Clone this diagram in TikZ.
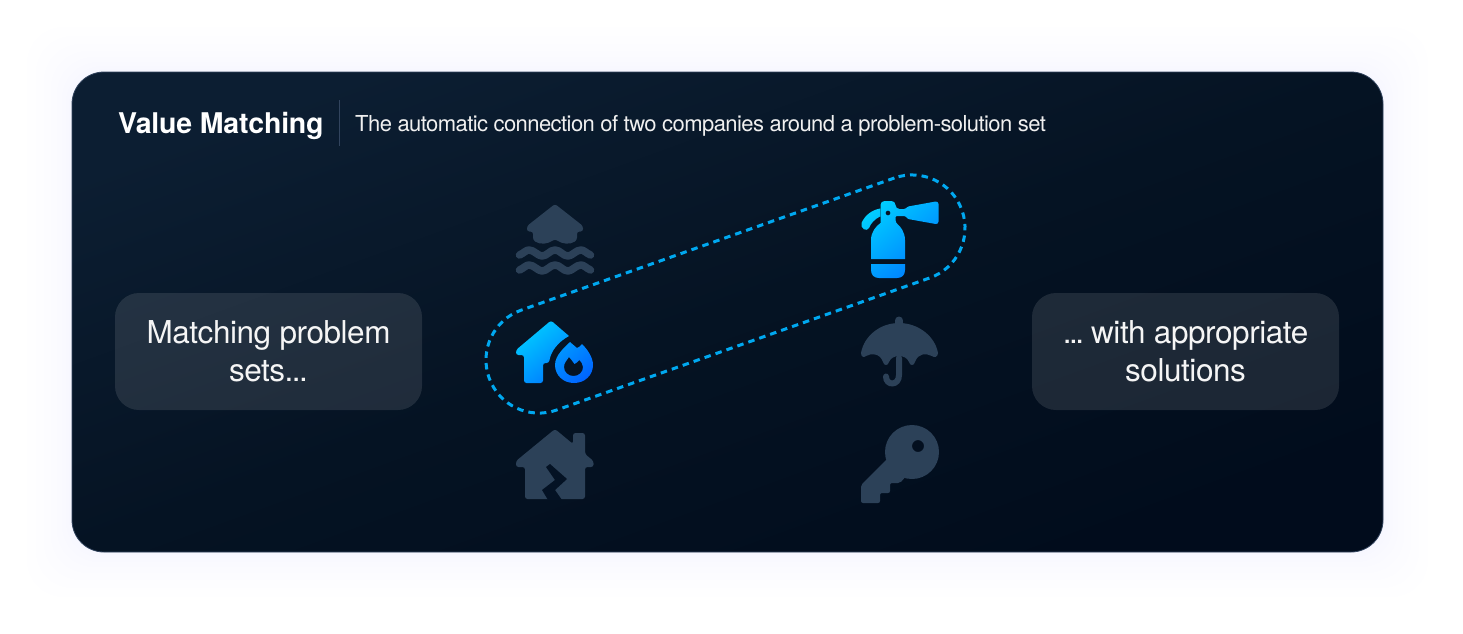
\documentclass[tikz,border=0pt]{standalone}
\usepackage{fontspec}
\setmainfont{TeX Gyre Heros}
\newfontfamily\subtitlefont[LetterSpace=-2.6]{TeX Gyre Heros}
\newfontfamily\talkfont[LetterSpace=-1.4]{TeX Gyre Heros}
\newfontfamily\titlefont[LetterSpace=-0.7]{TeX Gyre Heros}
\definecolor{cardtl}{RGB}{12, 30, 50}
\definecolor{cardmid}{RGB}{5, 19, 35}
\definecolor{cardbr}{RGB}{1, 12, 28}
\definecolor{cardedge}{RGB}{50, 68, 94}
\definecolor{glowblue}{RGB}{70, 130, 255}
\definecolor{iconslate}{RGB}{44, 65, 88}
\definecolor{icondark}{RGB}{4, 18, 36}
\definecolor{hotcyan}{RGB}{0, 205, 255}
\definecolor{hotblue}{RGB}{0, 125, 255}
\definecolor{flamelight}{RGB}{0, 150, 255}
\definecolor{flamedeep}{RGB}{0, 100, 255}
\definecolor{ringblue}{RGB}{0, 168, 240}
\usetikzlibrary{positioning}

\begin{document}
\begin{tikzpicture}[
  x=1pt, y=-1pt,
  cardbox/.style={rounded corners=32pt, draw=cardedge, line width=0.8pt,
              top color=cardtl, bottom color=cardbr, middle color=cardmid, shading angle=20},
  talkbox/.style={fill=white, fill opacity=0.105, text opacity=1, text=white!96!black,
              rounded corners=24pt, minimum width=307pt, minimum height=117pt,
              inner sep=0pt, align=center, font=\fontsize{31.5}{38}\selectfont\talkfont},
  slateicon/.style={fill=iconslate},
  hoticon/.style={top color=hotcyan, bottom color=hotblue, shading angle=40},
  flameicon/.style={top color=flamelight, bottom color=flamedeep, shading angle=40},
  wave/.style={draw=iconslate, line width=7.5pt, line cap=round, line join=round},
]
\useasboundingbox (0,0) rectangle (1463,633);

% Soft glow
\fill[white] (0,0) rectangle (1463,633);
\foreach \grow in {3,6,10,15,21,28,36,45}
  \fill[glowblue, opacity=0.005, rounded corners=36pt]
    (72-\grow,72-\grow) rectangle (1383+\grow,552+\grow);

% Card
\path[cardbox] (72,72) rectangle (1383,552);

% Heading
\node[anchor=base west, inner sep=0pt, text=white, font=\fontsize{28.5}{34}\selectfont\titlefont\bfseries]
  (title) at (118,133) {Value Matching};
\node[anchor=base west, inner sep=0pt, text=white!94!black, font=\fontsize{22}{26}\selectfont\subtitlefont]
  (subtitle) at (355,131) {The automatic connection of two companies around a problem-solution set};
\coordinate (ruletop) at (339,100);
\coordinate (rulebot) at (339,146);
\draw[cardedge, line width=0.8pt] (ruletop) -- (rulebot);

% Side boxes
\node[talkbox] (problems) at (268.5,351.5) {Matching problem\\sets.\kern-1.5pt.\kern-1.5pt.};
\node[talkbox] (solutions) at (1185.5,351.5) {.\kern-2.5pt.\kern-2.5pt.\kern-4pt{} with appropriate\\solutions};

% Dashed pair
\node[draw=ringblue, line width=3pt, dash pattern=on 6.5pt off 5.1pt, rounded corners=52.9pt,
      minimum width=501.7pt, minimum height=106pt, inner sep=0pt, rotate=19.5]
  (pairing) at (725.5,294) {};

% Flooded house
\path[slateicon, rounded corners=2.5pt] (555,204) -- (583,226) -- (583,231.5) -- (577,231.5) -- (577,240)
  .. controls (570,245) and (562,244) .. (555,239) .. controls (548,244) and (540,245) .. (533,240)
  -- (533,231.5) -- (527,231.5) -- (527,226) -- cycle;
\draw[wave] (519.5,255) .. controls (524,253) and (526,250) .. (529,250) .. controls (534,250) and (538,256) .. (542,256)
  .. controls (547,256) and (550,250) .. (555,250) .. controls (560,250) and (563,256) .. (568,256)
  .. controls (572,256) and (576,250) .. (581,250) .. controls (584,250) and (586,253) .. (590.5,255);
\draw[wave] (519.5,270) .. controls (524,268) and (526,265) .. (529,265) .. controls (534,265) and (538,271) .. (542,271)
  .. controls (547,271) and (550,265) .. (555,265) .. controls (560,265) and (563,271) .. (568,271)
  .. controls (572,271) and (576,265) .. (581,265) .. controls (584,265) and (586,268) .. (590.5,270);

% Burning house
\shade[hoticon] [rounded corners=2.5pt] (569,336) -- (551,320.5) -- (516,350) -- (516,355) -- (524,355)
  -- (524,383) -- (543,383) -- (543,363) -- (549,363) [sharp corners]
  .. controls (551,351) and (558,342) .. (569,336) -- cycle;
\shade[flameicon, even odd rule] (570,342) .. controls (565,347) and (555,355) .. (555,365)
  .. controls (555,375) and (563,383) .. (574,383) .. controls (585,383) and (593,375) .. (593,365)
  .. controls (593,357) and (587,349) .. (582,344) .. controls (581,346) and (579,347) .. (577,348)
  .. controls (575,346) and (572,344) .. (570,342) -- cycle
  (569,357) .. controls (567,360) and (564,363) .. (564,367) .. controls (564,372) and (568,376) .. (573.5,376)
  .. controls (579,376) and (583,372) .. (583,367) .. controls (583,364) and (581,362) .. (579.5,360)
  .. controls (578,362) and (576,363) .. (574.5,364) .. controls (573,362) and (571,359) .. (569,357) -- cycle;

% Cracked house
\path[slateicon, rounded corners=2.5pt] (555,429) -- (573,444) -- (573,433) -- (585,433) -- (585,454)
  -- (593.5,461) -- (593.5,467) -- (585,467) -- (585,499) -- (525,499) -- (525,467) -- (516,467) -- (516,461) -- cycle;
\fill[icondark] (546,467) -- (550,464) -- (567,479) -- (555,490) -- (562,500) -- (548,500)
  -- (542,490) -- (555,480) -- cycle;

% Extinguisher
\shade[hoticon, even odd rule] [rounded corners=4pt] (888,201) -- (895.5,201) -- (895.5,209)
  [rounded corners=1pt] -- (905,209) -- (908,206.5) [rounded corners=3pt] -- (938.5,201) -- (938.5,224.5)
  [rounded corners=1pt] -- (908,219) -- (905,216) -- (895.5,216) [rounded corners=3pt] -- (895.5,223)
  [sharp corners] .. controls (900,226) and (905,232) .. (905,240) -- (905,259) -- (871,259) -- (871,240)
  .. controls (871,232) and (876,226) .. (880.5,223) [rounded corners=4pt] -- (880.5,201) -- cycle
  (890.5,213) arc[start angle=0, end angle=360, radius=2.5pt]
  [sharp corners] (871,264) -- (905,264) -- (905,270) .. controls (905,275) and (902,278) .. (897,278) -- (879,278)
  .. controls (874,278) and (871,275) .. (871,270) -- cycle
  (880,208.5) .. controls (872,210) and (865,215) .. (861.5,223) .. controls (860,229) and (867,232) .. (869,228)
  .. controls (871,223) and (875,219) .. (880,216.5) -- cycle;

% Umbrella
\path[slateicon] (861,353) .. controls (864,336) and (880,323) .. (899,323)
  .. controls (918,323) and (935,336) .. (938,353) .. controls (938,357) and (934,358) .. (932,356)
  .. controls (926,353) and (918,353) .. (915,362) .. controls (914,366) and (910,366) .. (909,362)
  .. controls (906,354) and (892,354) .. (889,362) .. controls (888,366) and (884,366) .. (883,362)
  .. controls (880,353) and (871,353) .. (866,356) .. controls (864,358) and (861,357) .. (861,353) -- cycle;
\draw[iconslate, line width=8pt, line cap=round] (899,320.5) -- (899,325);
\draw[iconslate, line width=6pt, line cap=round] (899,358) -- (899,375)
  .. controls (899,386) and (886,386) .. (886,376.5);

% Key
\path[slateicon, even odd rule] (912,452) circle[radius=27pt] (918,446) circle[radius=6pt];
\path[slateicon, rounded corners=2pt] (888,458) -- (861,485) -- (861,503) -- (880,503) -- (880,493)
  -- (890,493) -- (890,483) -- (900,483) -- (908,474) -- cycle;
\end{tikzpicture}
\end{document}
